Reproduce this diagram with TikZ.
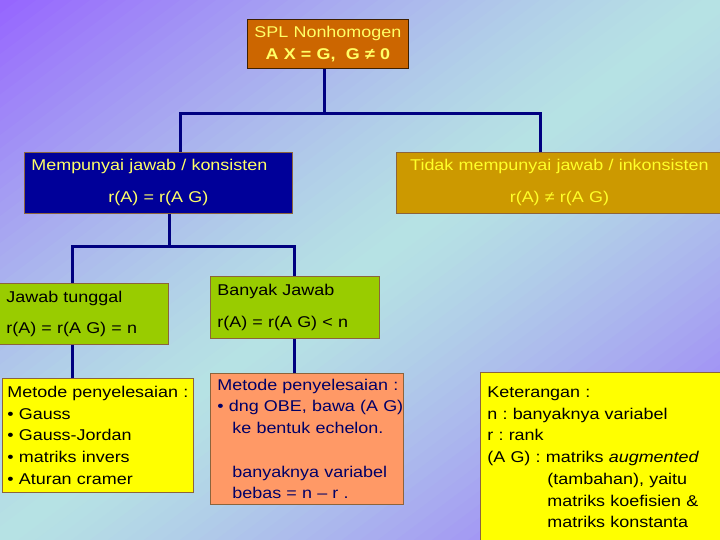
\documentclass[tikz,border=0pt]{standalone}
\usepackage{fontspec}
\setmainfont{Liberation Sans}[FakeStretch=1.15]
\frenchspacing

\definecolor{bgpurple}{RGB}{150,100,255}
\definecolor{bgcyan}{RGB}{182,226,228}
\definecolor{linkblue}{RGB}{0,0,128}
\definecolor{boxedge}{RGB}{140,100,60}
\definecolor{paleyellow}{RGB}{255,255,102}
\definecolor{brightyellow}{RGB}{255,255,40}
\definecolor{topfill}{RGB}{204,102,0}
\definecolor{consfill}{RGB}{0,0,153}
\definecolor{inconsfill}{RGB}{204,153,0}
\definecolor{leaffill}{RGB}{153,204,0}
\definecolor{notefill}{RGB}{255,255,0}
\definecolor{obefill}{RGB}{255,153,102}
\definecolor{obetext}{RGB}{0,0,102}

\begin{document}
\begin{tikzpicture}[x=1pt, y=-1pt,
	box/.style={draw=boxedge, line width=0.8pt, anchor=north west, inner xsep=7pt, inner ysep=0pt, align=left, font=\fontsize{15.6}{21.7}\selectfont},
	link/.style={draw=linkblue, line width=3pt}]
	\useasboundingbox (0,0) rectangle (720,540);
	\begin{scope}
		\clip (0,0) rectangle (720,540);
		\foreach \i in {0,...,79} {
			\pgfmathsetmacro{\ca}{\i/40}
			\pgfmathsetmacro{\cb}{(\i+1.3)/40}
			\pgfmathsetmacro{\mix}{100*abs(\ca+0.0125-1)^1.3}
			\fill [bgpurple!\mix!bgcyan] ({720*(\ca+1)},-540) -- ({720*(\ca-2)},1080) -- ({720*(\cb-2)},1080) -- ({720*(\cb+1)},-540) -- cycle;
		}
	\end{scope}

	\node [box, fill=topfill, text=paleyellow, draw=black!70!topfill, align=center, text width=147pt, minimum height=49pt] (top) at (247,19) {SPL Nonhomogen\\ \textbf{A X = G,\ \ G ≠ 0}};
	\node [box, fill=consfill, text=paleyellow, text width=254pt, minimum height=61pt] (cons) at (24,152) {Mempunyai jawab / konsisten\\[10.3pt] \hspace*{\fill}r(A) = r(A G)\hspace*{\fill}};
	\node [box, fill=inconsfill, text=brightyellow, align=center, text width=312pt, minimum height=61pt] (incons) at (396,152) {Tidak mempunyai jawab / inkonsisten\\[10.3pt] r(A) ≠ r(A G)};

	\node [box, fill=leaffill, text width=155pt, minimum height=61pt] (single) at (-1,283) {Jawab tunggal\\[10pt] r(A) = r(A G) = n};
	\node [box, fill=leaffill, text width=155pt, minimum height=62pt] (many) at (210,276) {Banyak Jawab\\[11pt] r(A) = r(A G) < n};

	\node [box, fill=notefill, inner xsep=5pt, text width=181pt, minimum height=114pt] (meth1) at (2,378) {\mbox{Metode penyelesaian :}\\ • Gauss\\ • Gauss-Jordan\\ • matriks invers\\ • Aturan cramer};
	\node [box, fill=obefill, text=obetext, text width=179pt, minimum height=131pt] (meth2) at (210,373) {\mbox{Metode penyelesaian :}\\ \mbox{• dng OBE, bawa (A G)}\\ \hspace*{15pt}ke bentuk echelon.\\[21.7pt] \hspace*{15pt}banyaknya variabel\\ \hspace*{15pt}bebas = n – r .};
	\node [box, fill=notefill, text width=228pt, minimum height=170pt] (notes) at (480,372) {Keterangan :\\ n : banyaknya variabel\\ r : rank\\ (A G) : matriks \textit{augmented}\\ \hspace*{60pt}(tambahan), yaitu\\ \hspace*{60pt}matriks koefisien \&\\ \hspace*{60pt}matriks konstanta};

	\coordinate (j1) at (324,114);
	\coordinate (j2) at (169,246);
	\draw [link] (top.south -| j1) -- (j1);
	\draw [link] (cons.north -| 180,0) |- (j1) -| (incons.north -| 540,0);
	\draw [link] (cons.south -| j2) -- (j2);
	\draw [link] (single.north -| 72,0) |- (j2) -| (many.north -| 294,0);
	\draw [link] (single.south -| 72,0) -- (meth1.north -| 72,0);
	\draw [link] (many.south -| 294,0) -- (meth2.north -| 294,0);
\end{tikzpicture}
\end{document}
